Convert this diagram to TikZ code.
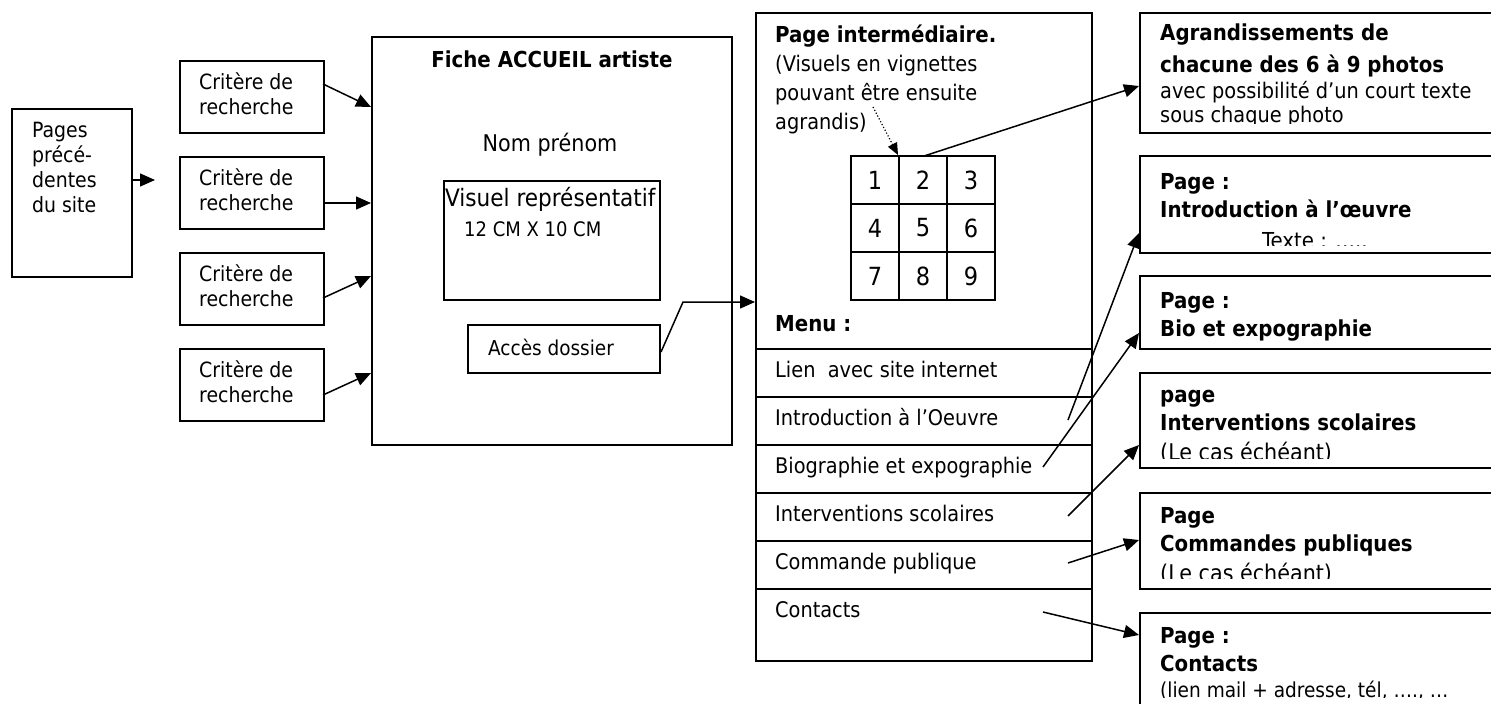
\documentclass[tikz,border=0pt]{standalone}
\usepackage{fontspec}
\setmainfont{DejaVu Sans Condensed}
\usetikzlibrary{arrows.meta}
\newcommand\myfcrit{\fontsize{21}{25}\selectfont}
\newcommand\myfmenu{\fontsize{21.5}{29}\selectfont}
\newcommand\myfbold{\fontsize{22}{28}\selectfont\bfseries}
\newcommand\myfgrid{\fontsize{25}{30}\selectfont}
\newcommand\myfnote{\fontsize{21.5}{26}\selectfont}
\tikzset{
  box/.style={draw, line width=2pt, rectangle, inner sep=0pt, anchor=north west},
  cell/.style={draw, line width=2pt, rectangle, inner sep=0pt, minimum size=48pt, font=\myfgrid},
  txt/.style={inner sep=0pt, anchor=base west, align=left},
  ctxt/.style={inner sep=0pt, anchor=base, align=center},
  arr/.style={line width=1.5pt, -{Triangle[length=15pt,width=13pt]}},
  dotarr/.style={line width=1.2pt, dotted, -{Triangle[length=12pt,width=10pt]}},
}
\begin{document}
\begin{tikzpicture}[x=1pt,y=-1pt]
\useasboundingbox (0,0) rectangle (1491,704);
\clip (0,0) rectangle (1491,704);
% left column (multi-line nodes are placed at the baseline of their last line)
\node[box, minimum width=120pt, minimum height=168pt] (pages) at (11,108) {};
\node[txt, font=\myfcrit] (pagestxt) at (32,212) {Pages\\précé-\\dentes\\du site};
\coordinate (pagestip) at (155,180);
\draw[arr] (pages.east |- pagestip) -- (pagestip);

\foreach \i/\y in {1/60, 2/156, 3/252, 4/348}{
  \node[box, minimum width=144pt, minimum height=72pt] (crit\i) at (179,\y) {};
  \node[txt, font=\myfcrit] (crittxt\i) at (199,\y+54) {Critère de\\recherche};
}
% Fiche accueil
\node[box, minimum width=360pt, minimum height=408pt] (fiche) at (371,36) {};
\node[ctxt, font=\myfbold] (fichetitle) at (552,67) {Fiche ACCUEIL artiste};
\node[ctxt, font=\fontsize{23}{28}\selectfont] (nom) at (550,151) {Nom prénom};
\node[box, minimum width=216pt, minimum height=119pt] (visuel) at (443,180) {};
\node[txt, font=\fontsize{24}{28}\selectfont] (visueltxt) at (445,206) {Visuel représentatif};
\node[txt, font=\fontsize{20}{24}\selectfont] (dim) at (464,236) {12 CM X 10 CM};
\node[box, minimum width=192pt, minimum height=48pt] (acces) at (467,324) {};
\node[txt, font=\fontsize{20.5}{24}\selectfont] (accestxt) at (488,355) {Accès dossier};

\foreach \i/\y in {1/107, 2/203, 3/276, 4/373}{
  \coordinate (fin\i) at (371,\y);
}
\draw[arr] (323,84) -- (fin1);
\draw[arr] (crit2.east |- fin2) -- (fin2);
\draw[arr] (323,298) -- (fin3);
\draw[arr] (323,395) -- (fin4);

% Page intermediaire
\node[box, minimum width=336pt, minimum height=648pt] (inter) at (755,12) {};
\node[txt, font=\myfmenu] (intertxt) at (775,129) {{\bfseries\fontsize{22}{29}\selectfont Page intermédiaire.}\\(Visuels en vignettes\\pouvant être ensuite\\agrandis)};
\foreach \r in {1,2,3}{
  \foreach \c in {1,2,3}{
    \pgfmathtruncatemacro\n{(\r-1)*3+\c}
    \node[cell] (cell\r\c) at (851+48*\c-24, 156+48*\r-24) {\n};
  }
}
\node[txt, font=\myfbold] (menutxt) at (775,331) {Menu :};
\foreach \i/\y/\h/\t in {1/348/48/{Lien~ avec site internet}, 2/396/48/{Introduction à l’Oeuvre}, 3/444/48/{Biographie et expographie}, 4/492/48/{Interventions scolaires}, 5/540/48/{Commande publique}, 6/588/72/{Contacts}}{
  \node[box, minimum width=336pt, minimum height=\h pt] (row\i) at (755,\y) {};
  \node[txt, font=\myfmenu] (rowtxt\i) at (775,\y+29) {\t};
}
% acces -> inter
\coordinate (bend) at (683,302);
\draw[arr] (acces.east |- 0,352) -- (bend) -- (inter.west |- bend);

% right boxes
\node[box, minimum width=380pt, minimum height=120pt] (agr) at (1139,12) {};
\node[box, minimum width=380pt, minimum height=97pt] (pintro) at (1139,155) {};
\node[box, minimum width=380pt, minimum height=73pt] (pbio) at (1139,275) {};
\node[box, minimum width=380pt, minimum height=95pt] (pint) at (1139,372) {};
\node[box, minimum width=380pt, minimum height=96pt] (pcom) at (1139,492) {};
\node[box, minimum width=380pt, minimum height=120pt] (pcont) at (1139,612) {};

\begin{scope}
\clip (1139,12) rectangle (1500,123);
\node[txt, font=\myfbold] (agr1) at (1160,40) {Agrandissements de};
\node[txt, font=\fontsize{22}{28}\selectfont\bfseries] (agr2) at (1160,72) {chacune des 6 à 9 photos};
\node[txt, font=\myfnote] (agr3) at (1160,98) {avec possibilité d’un court texte};
\node[txt, font=\myfnote] (agr4) at (1160,122) {sous chaque photo};
\end{scope}
\begin{scope}
\clip (1139,155) rectangle (1500,245);
\node[txt, font=\myfbold] (introtxt) at (1160,217) {Page :\\Introduction à l’œuvre};
\node[txt, font=\fontsize{22}{26}\selectfont] (textetxt) at (1262,248) {Texte : …..};
\end{scope}
\begin{scope}
\clip (1139,275) rectangle (1500,340);
\node[txt, font=\myfbold] (biotxt) at (1160,336) {Page :\\Bio et expographie};
\end{scope}
\begin{scope}
\clip (1139,372) rectangle (1500,458);
\node[txt, font=\myfbold] (inttxt) at (1160,430) {page\\Interventions scolaires};
\node[txt, font=\fontsize{23}{28}\selectfont] (intcas) at (1160,460) {(Le cas échéant)};
\end{scope}
\begin{scope}
\clip (1139,492) rectangle (1500,578);
\node[txt, font=\myfbold] (comtxt) at (1160,551) {Page\\Commandes publiques};
\node[txt, font=\fontsize{23}{28}\selectfont] (comcas) at (1160,581) {(Le cas échéant)};
\end{scope}
\begin{scope}
\clip (1139,612) rectangle (1500,697);
\node[txt, font=\myfbold] (conttxt) at (1160,671) {Page :\\Contacts};
\node[txt, font=\fontsize{20.6}{25}\selectfont] (contdet) at (1160,697) {(lien mail + adresse, tél, …., …};
\end{scope}

% arrows to right boxes
\coordinate (dotstart) at (873,107);
\draw[dotarr] (dotstart) -- (cell12.north west);
\coordinate (gridout) at (924,156);
\coordinate (agrin) at (1139,86);
\draw[arr] (gridout) -- (agrin);
\coordinate (s2) at (1068,420); \coordinate (t2) at (1139,233);
\coordinate (s3) at (1043,467); \coordinate (t3) at (1139,333);
\coordinate (s4) at (1068,516); \coordinate (t4) at (1139,445);
\coordinate (s5) at (1068,563); \coordinate (t5) at (1139,540);
\coordinate (s6) at (1043,612); \coordinate (t6) at (1139,635);
\draw[arr] (s2) -- (t2);
\draw[arr] (s3) -- (t3);
\draw[arr] (s4) -- (t4);
\draw[arr] (s5) -- (t5);
\draw[arr] (s6) -- (t6);
\end{tikzpicture}
\end{document}
